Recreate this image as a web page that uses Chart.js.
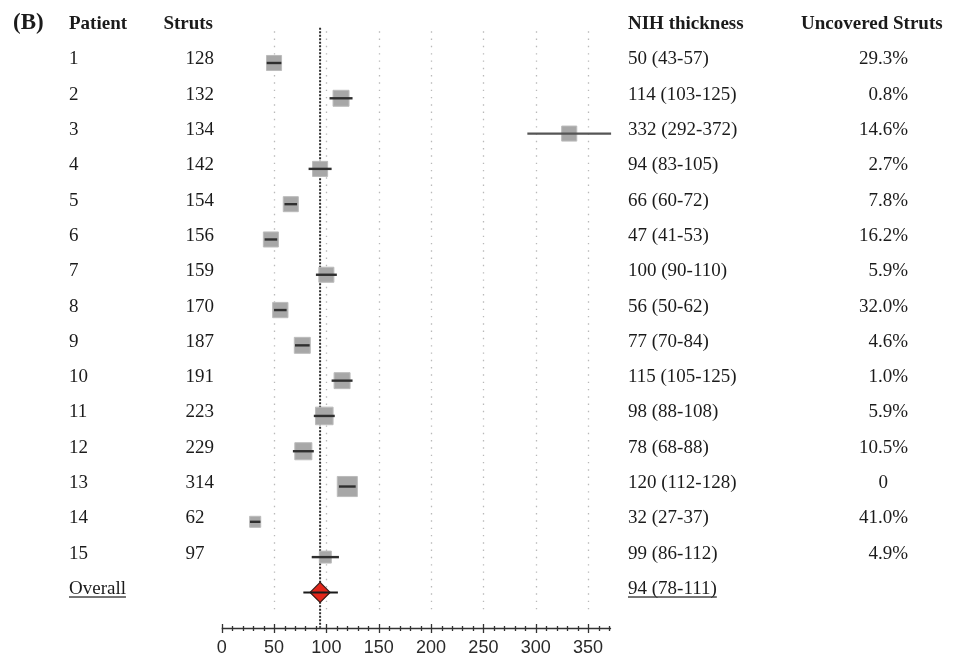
<!DOCTYPE html>
<html>
<head>
<meta charset="utf-8">
<script src="https://cdn.jsdelivr.net/npm/chart.js@4.4.1/dist/chart.umd.min.js"></script>
<style>
  html, body { margin: 0; padding: 0; background: #fff; }
  canvas { display: block; }
</style>
</head>
<body>
<canvas id="forest" width="961" height="664"></canvas>
<script>
// data
const patients = ['1', '2', '3', '4', '5', '6', '7', '8', '9', '10', '11', '12', '13', '14', '15'];
const struts = [128, 132, 134, 142, 154, 156, 159, 170, 187, 191, 223, 229, 314, 62, 97];
const nihMean = [50, 114, 332, 94, 66, 47, 100, 56, 77, 115, 98, 78, 120, 32, 99];
const nihLow = [43, 103, 292, 83, 60, 41, 90, 50, 70, 105, 88, 68, 112, 27, 86];
const nihHigh = [57, 125, 372, 105, 72, 53, 110, 62, 84, 125, 108, 88, 128, 37, 112];
const uncovered = ['29.3%', '0.8%', '14.6%', '2.7%', '7.8%', '16.2%', '5.9%', '32.0%', '4.6%', '1.0%', '5.9%', '10.5%', '0', '41.0%', '4.9%'];
// relative weight (%) -> square size
const weights = [6.3, 7.1, 6.3, 6.3, 6.3, 6.3, 6.3, 6.5, 7.1, 7.1, 8.6, 8.1, 11.2, 3.4, 4.0];
const overallLabel = 'Overall';
const overall = [94, 78, 111]; // mean, low, high
const xTicks = [0, 50, 100, 150, 200, 250, 300, 350];
const headers = ['Patient', 'Struts', 'NIH thickness', 'Uncovered Struts'];

const serif = '"Liberation Serif", "Times New Roman", serif';
const textColor = '#1b1b1b';

//square radius from weight (rect side = 1.414 * r)
const boxRadius = weights.map(w => 6 * Math.sqrt(w) / Math.SQRT2);

const overallRow = patients.length + 1;

// dotted grid + reference line + axis with minor ticks
const backdrop = {
  id: 'backdrop',
  beforeDatasetsDraw(chart) {
    const { ctx, scales: { x, y } } = chart;
    ctx.save();
    // light dotted gridlines
    ctx.strokeStyle = '#b9b9b9';
    ctx.lineWidth = 1.3;
    ctx.setLineDash([1.4, 5.9]);
    xTicks.slice(1).forEach(v => {
      const px = Math.round(x.getPixelForValue(v)) + 0.5;
      ctx.beginPath();
      ctx.moveTo(px, y.getPixelForValue(0.1));
      ctx.lineTo(px, y.getPixelForValue(overallRow + 0.55));
      ctx.stroke();
    });
    // dark dotted reference line at overall estimate
    ctx.strokeStyle = '#2e2e2e';
    ctx.lineWidth = 2;
    ctx.setLineDash([2, 1.5]);
    const rx = x.getPixelForValue(overall[0]);
    ctx.beginPath();
    ctx.moveTo(rx, y.getPixelForValue(0));
    ctx.lineTo(rx, y.getPixelForValue(overallRow + 1));
    ctx.stroke();
    ctx.restore();
  },
  afterDraw(chart) {
    const { ctx, scales: { x, y } } = chart;
    const ay = Math.round(y.getPixelForValue(overallRow + 1)) + 0.5;
    ctx.save();
    ctx.strokeStyle = '#333';
    ctx.lineWidth = 1.3;
    ctx.beginPath();
    ctx.moveTo(x.getPixelForValue(0), ay);
    ctx.lineTo(x.getPixelForValue(372), ay);
    ctx.stroke();
    for (let v = 0; v <= 370; v += 10) {
      const px = Math.round(x.getPixelForValue(v)) + 0.5;
      const h = v % 50 === 0 ? 4.5 : 2.5;
      ctx.beginPath();
      ctx.moveTo(px, ay - h);
      ctx.lineTo(px, ay + h);
      ctx.stroke();
    }
    ctx.restore();
  }
};

// confidence interval bars drawn on top of the squares
const ciBars = {
  id: 'ciBars',
  afterDatasetsDraw(chart) {
    const { ctx, scales: { x, y } } = chart;
    ctx.save();
    ctx.lineWidth = 2.4;
    nihLow.forEach((lo, i) => {
      const py = y.getPixelForValue(i + 1);
      // long bars come out a bit lighter in the original
      ctx.strokeStyle = nihHigh[i] - lo > 50 ? '#555' : '#2f2f2f';
      ctx.beginPath();
      ctx.moveTo(x.getPixelForValue(lo), py);
      ctx.lineTo(x.getPixelForValue(nihHigh[i]), py);
      ctx.stroke();
    });
    const oy = y.getPixelForValue(overallRow);
    ctx.strokeStyle = '#1a1a1a';
    ctx.lineWidth = 2;
    ctx.beginPath();
    ctx.moveTo(x.getPixelForValue(overall[1]), oy);
    ctx.lineTo(x.getPixelForValue(overall[2]), oy);
    ctx.stroke();
    ctx.restore();
  }
};

// text columns at left and right of the plot
const columns = {
  id: 'columns',
  afterDraw(chart) {
    const { ctx, scales: { y } } = chart;
    const base = i => y.getPixelForValue(i) + 1.5;
    ctx.save();
    ctx.fillStyle = textColor;
    ctx.textBaseline = 'alphabetic';

    ctx.font = 'bold 23px ' + serif;
    ctx.textAlign = 'left';
    ctx.fillText('(B)', 13, base(0));

    ctx.font = 'bold 19px ' + serif;
    ctx.fillText(headers[0], 69, base(0));
    ctx.textAlign = 'right';
    ctx.fillText(headers[1], 213, base(0));
    ctx.textAlign = 'left';
    ctx.fillText(headers[2], 628, base(0));
    ctx.fillText(headers[3], 801, base(0));

    ctx.font = '19px ' + serif;
    patients.forEach((p, i) => {
      const b = base(i + 1);
      ctx.textAlign = 'left';
      ctx.fillText(p, 69, b);
      ctx.fillText(String(struts[i]), 185.5, b);
      ctx.fillText(`${nihMean[i]} (${nihLow[i]}-${nihHigh[i]})`, 628, b);
      ctx.textAlign = 'right';
      // bare "0" sits left of the % column
      ctx.fillText(uncovered[i], uncovered[i].endsWith('%') ? 908 : 888, b);
    });

    // overall row, underlined
    const ob = base(overallRow);
    ctx.textAlign = 'left';
    const oText = `${overall[0]} (${overall[1]}-${overall[2]})`;
    [[overallLabel, 69], [oText, 628]].forEach(([t, tx]) => {
      ctx.fillText(t, tx, ob);
      const w = ctx.measureText(t).width;
      ctx.fillRect(tx, ob + 2.5, w, 1.2);
    });
    ctx.restore();
  }
};

new Chart(document.getElementById('forest'), {
  type: 'scatter',
  data: {
    datasets: [
      {
        label: 'Patients',
        data: nihMean.map((v, i) => ({ x: v, y: i + 1 })),
        pointStyle: 'rect',
        pointRadius: boxRadius,
        backgroundColor: '#a7a7a7',
        borderColor: '#bcbcbc',
        borderWidth: 1,
      },
      {
        label: 'Overall',
        data: [{ x: overall[0], y: overallRow }],
        pointStyle: 'rectRot',
        pointRadius: 10,
        backgroundColor: '#e2261a',
        borderColor: '#3a1a16',
        borderWidth: 1.2,
      }
    ]
  },
  options: {
    responsive: false,
    animation: false,
    devicePixelRatio: 1,
    layout: { padding: { left: 221.7, right: 352, top: 27.7, bottom: 0 } },
    plugins: {
      legend: { display: false },
      tooltip: { enabled: false },
    },
    scales: {
      x: {
        type: 'linear',
        min: 0,
        max: 370,
        grid: { display: false, drawTicks: false, tickLength: 0 },
        border: { display: false },
        afterBuildTicks: s => { s.ticks = xTicks.map(v => ({ value: v })); },
        afterFit: s => { s.height = 36.3; },
        ticks: {
          padding: 9.8,
          color: '#2a2a2a',
          font: { family: '"Liberation Sans", Arial, sans-serif', size: 18 },
          maxRotation: 0,
          autoSkip: false,
        },
      },
      y: {
        type: 'linear',
        min: 0,
        max: 17,
        reverse: true,
        display: false,
      }
    }
  },
  plugins: [backdrop, ciBars, columns]
});
</script>
</body>
</html>
